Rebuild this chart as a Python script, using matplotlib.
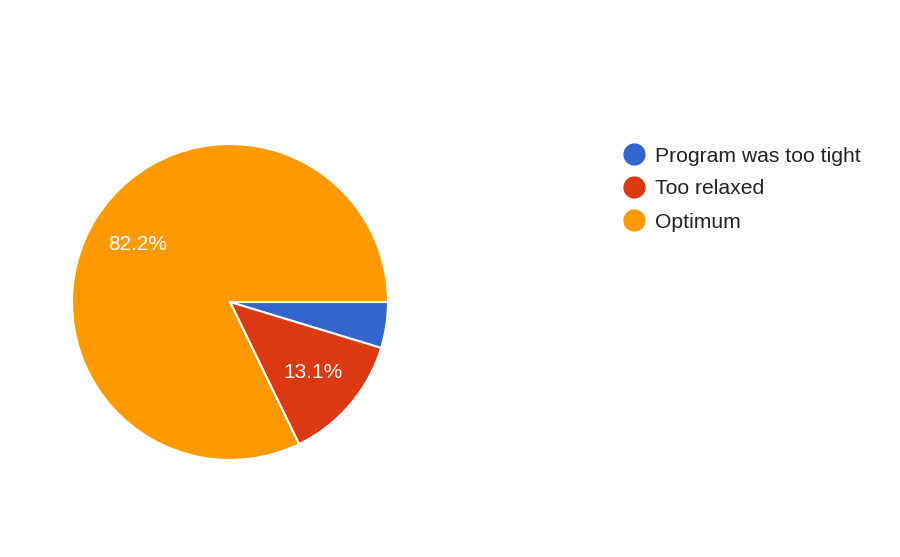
import matplotlib
matplotlib.use("Agg")
import matplotlib.pyplot as plt

categories = ["Program was too tight", "Too relaxed", "Optimum"]
values = [4.7, 13.1, 82.2]
colors = ["#3366cc", "#dc3912", "#ff9900"]

plt.rcParams['font.family'] = ['Liberation Sans', 'DejaVu Sans']

fig = plt.figure(figsize=(9, 5.57), dpi=100)
ax = fig.add_axes([0, 0, 1, 1])
ax.set_xlim(0, 900)
ax.set_ylim(0, 557)
ax.set_aspect('equal')
ax.axis('off')

def fmt(p):
    return f"{p:.1f}%" if p > 5 else ""

wedges, texts, autotexts = ax.pie(
    values, colors=colors, startangle=0, counterclock=False,
    center=(230, 557 - 302), radius=158, autopct=fmt, pctdistance=0.69,
    wedgeprops=dict(edgecolor="white", linewidth=1.5),
    textprops=dict(color="white", fontsize=15))
ax.set_xlim(0, 900)
ax.set_ylim(0, 557)

ys = [154, 187, 220]
for cat, col, y in zip(categories, colors, ys):
    ax.plot(634, 557 - y, 'o', markersize=15, color=col)
    ax.text(655, 557 - y, cat, fontsize=15.2, color="#222222",
            va='center_baseline', ha='left')

fig.savefig("out.png", dpi=100)
